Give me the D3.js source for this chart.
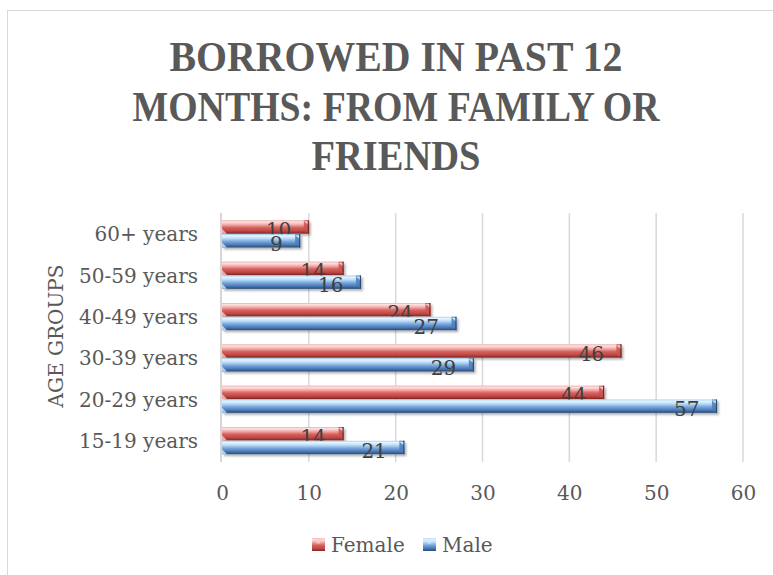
<!DOCTYPE html>
<html>
<head>
<meta charset="utf-8">
<script src="https://cdn.jsdelivr.net/npm/d3@7"></script>
<style>
  html, body { margin: 0; padding: 0; background: #fff; }
  svg { display: block; }
</style>
</head>
<body>
<svg id="chart" width="773" height="575"></svg>
<script>
// Age groups, bottom to top as read on the axis
const categories = ["15-19 years", "20-29 years", "30-39 years", "40-49 years", "50-59 years", "60+ years"];
const female = [14, 44, 46, 24, 14, 10];
const male = [21, 57, 29, 27, 16, 9];
const seriesNames = ["Female", "Male"];
const xTicks = [0, 10, 20, 30, 40, 50, 60];
const titleLines = ["BORROWED IN PAST 12", "MONTHS: FROM FAMILY OR", "FRIENDS"];
const axisTitle = "AGE GROUPS";

const W = 773, H = 575;
const labelFont = "'DejaVu Serif', 'Liberation Serif', serif";
const textColor = "#595959";

const svg = d3.select("#chart");
const defs = svg.append("defs");

// vertical gradients giving the bars their rounded 3D look
const gradStops = {
  Female: [[0, "#eea8a6"], [0.12, "#fde2e1"], [0.3, "#f2b3b1"], [0.55, "#d9605d"], [0.8, "#bd4744"], [1, "#7d2826"]],
  Male:   [[0, "#a9cbee"], [0.12, "#e4f6ff"], [0.3, "#bfe0fa"], [0.55, "#79a6dc"], [0.8, "#4a78b5"], [1, "#284a78"]]
};
Object.entries(gradStops).forEach(([k, stops]) => {
  const g = defs.append("linearGradient").attr("id", "grad-" + k)
    .attr("x1", 0).attr("y1", 0).attr("x2", 0).attr("y2", 1);
  stops.forEach(([o, c]) => g.append("stop").attr("offset", o).attr("stop-color", c));
});
const shadow = defs.append("filter").attr("id", "shadow")
  .attr("x", "-5%").attr("y", "-30%").attr("width", "115%").attr("height", "180%");
shadow.append("feDropShadow").attr("dx", 2).attr("dy", 2).attr("stdDeviation", 1.3)
  .attr("flood-color", "#000").attr("flood-opacity", 0.3);

const edgeColor = { Female: "#7a2321", Male: "#2a4a74" };
const capLight = { Female: "#f6c9c8", Male: "#cde9ff" };

// chart frame
svg.append("rect").attr("x", 7.5).attr("y", 10.5).attr("width", 800).attr("height", 600)
  .attr("fill", "none").attr("stroke", "#d9d9d9").attr("stroke-width", 1);

// title
svg.append("g").selectAll("text").data(titleLines).join("text")
  .attr("x", 396).attr("y", (d, i) => 71 + i * 49.5)
  .attr("text-anchor", "middle")
  .attr("font-family", "'Liberation Serif', serif")
  .attr("font-weight", "bold").attr("font-size", 42)
  .attr("fill", textColor)
  .attr("textLength", (d, i) => [453, 527, 169][i])
  .attr("lengthAdjust", "spacingAndGlyphs")
  .text(d => d);

// scales
const x = d3.scaleLinear().domain([0, 60]).range([222, 743]);
const y = d3.scaleBand().domain(categories.slice().reverse()).range([213.5, 461.5])
  .paddingInner(0.33).paddingOuter(0.165);
const ySub = d3.scaleBand().domain(seriesNames).range([0, y.bandwidth()]);

// gridlines
svg.append("g").selectAll("line").data(xTicks.slice(1)).join("line")
  .attr("x1", d => x(d)).attr("x2", d => x(d))
  .attr("y1", 213).attr("y2", 462)
  .attr("stroke", "#d9d9d9").attr("stroke-width", 1.5);

// category axis line
svg.append("line").attr("x1", 221).attr("x2", 221).attr("y1", 213).attr("y2", 462)
  .attr("stroke", "#c8c8c8").attr("stroke-width", 1.5);

// x tick labels
const xAxis = svg.append("g").attr("transform", "translate(0,500)")
  .call(d3.axisBottom(x).tickValues(xTicks).tickSize(0).tickPadding(0));
xAxis.select(".domain").remove();
xAxis.selectAll("text")
  .attr("y", 0).attr("dy", 0)
  .attr("font-family", labelFont).attr("font-size", 20).attr("fill", textColor);

// category labels
const yAxis = svg.append("g").attr("transform", "translate(198,0)")
  .call(d3.axisLeft(y).tickSize(0).tickPadding(0));
yAxis.select(".domain").remove();
yAxis.selectAll("text")
  .attr("x", 0).attr("dy", "0.36em")
  .attr("font-family", labelFont).attr("font-size", 20).attr("fill", textColor);

// axis title
svg.append("text")
  .attr("transform", "translate(63,336) rotate(-90)")
  .attr("text-anchor", "middle")
  .attr("font-family", labelFont).attr("font-size", 20).attr("fill", textColor)
  .text(axisTitle);

// bars
const rows = [];
categories.forEach((c, i) => {
  rows.push({ cat: c, s: "Female", v: female[i] });
  rows.push({ cat: c, s: "Male", v: male[i] });
});

const barG = svg.append("g").selectAll("g").data(rows).join("g")
  .attr("transform", d => `translate(0,${y(d.cat) + ySub(d.s)})`);
const bh = ySub.bandwidth() - 0.5;

barG.append("rect")
  .attr("x", x(0)).attr("y", 0)
  .attr("width", d => x(d.v) - x(0)).attr("height", bh)
  .attr("fill", d => `url(#grad-${d.s})`)
  .attr("filter", "url(#shadow)");

// bevel on the far end of each bar
barG.append("path")
  .attr("d", d => {
    const x1 = x(d.v);
    return `M${x1 - 5},0 L${x1},0 L${x1},${bh} L${x1 - 5},${bh - 4} Z`;
  })
  .attr("fill", d => d.s === "Female" ? "#c85451" : "#4d7cba")
  .attr("opacity", 0.85);
barG.append("path")
  .attr("d", d => {
    const x1 = x(d.v);
    return `M${x1 - 5},1 L${x1},1 L${x1},5 Z`;
  })
  .attr("fill", d => capLight[d.s]);
barG.append("line")
  .attr("x1", d => x(d.v) - 0.5).attr("x2", d => x(d.v) - 0.5)
  .attr("y1", 0).attr("y2", bh)
  .attr("stroke", d => edgeColor[d.s]).attr("stroke-width", 1.2);
// bevel at the base of each bar
barG.append("path")
  .attr("d", () => `M${x(0)},${bh - 5} L${x(0) + 5},${bh} L${x(0)},${bh} Z`)
  .attr("fill", d => capLight[d.s]).attr("opacity", 0.8);

// value labels, inside the bar end
barG.append("text")
  .attr("x", d => x(d.v) - 17.5)
  .attr("y", bh / 2 + 10)
  .attr("text-anchor", "end")
  .attr("font-family", labelFont).attr("font-size", 20).attr("fill", "#404040")
  .text(d => d.v);

// legend
const legend = svg.append("g");
const legendItems = [
  { name: "Female", sx: 312, tx: 331 },
  { name: "Male", sx: 423, tx: 442 }
];
legend.selectAll("rect").data(legendItems).join("rect")
  .attr("x", d => d.sx).attr("y", 538).attr("width", 13).attr("height", 13)
  .attr("fill", d => `url(#grad-${d.name})`);
legend.selectAll("path").data(legendItems).join("path")
  .attr("d", d => `M${d.sx},538 L${d.sx + 13},538 L${d.sx + 6.5},544.5 Z`)
  .attr("fill", d => capLight[d.name]).attr("opacity", 0.7);
legend.selectAll("text").data(legendItems).join("text")
  .attr("x", d => d.tx).attr("y", 552)
  .attr("font-family", labelFont).attr("font-size", 20).attr("fill", textColor)
  .text(d => d.name);
</script>
</body>
</html>
